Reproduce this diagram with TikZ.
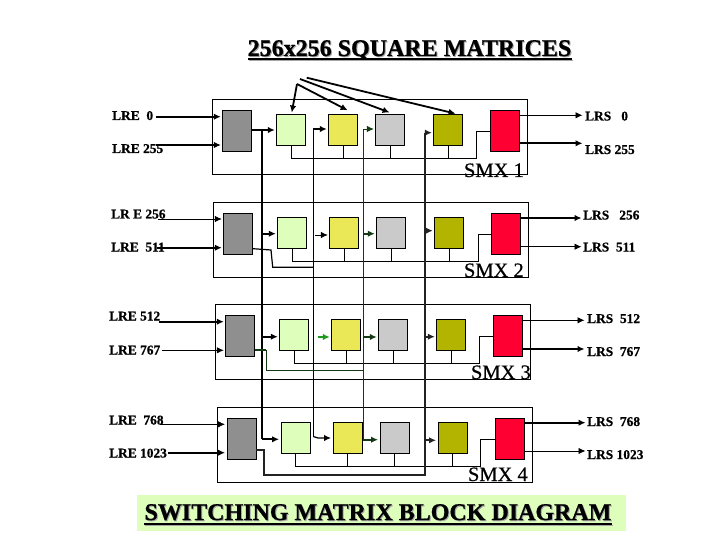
\documentclass[tikz,border=0pt]{standalone}
\usepackage{fontspec}
\setmainfont{Liberation Serif}
\newfontfamily\heavyfont[UprightFeatures={FakeBold=0.5},BoldFeatures={FakeBold=0.7}]{Liberation Serif}
\usetikzlibrary{arrows.meta}
\definecolor{grayblock}{HTML}{8F8F8F}
\definecolor{lightgreenblock}{HTML}{DDFFBB}
\definecolor{yellowblock}{HTML}{EBE858}
\definecolor{silverblock}{HTML}{CACACA}
\definecolor{oliveblock}{HTML}{B2B400}
\definecolor{redblock}{HTML}{FF0033}
\definecolor{darkgreenline}{HTML}{143A14}
\definecolor{brightgreenline}{HTML}{1E9A1E}
\definecolor{charcoalline}{HTML}{222222}
\definecolor{bannerback}{HTML}{DDFFBB}
\tikzset{
  x=1pt,y=-1pt,
  tip/.style={-{Latex[length=7pt,width=6.5pt]},shorten >=1.5pt},
  thinline/.style={line width=0.8pt},
  midline/.style={line width=1.2pt},
  thickline/.style={line width=1.8pt},
  frame/.style={draw=black,line width=0.8pt,fill=white,minimum width=315pt,minimum height=75pt,inner sep=0pt,anchor=north west},
  blk/.style={draw=black,line width=0.8pt,minimum width=29pt,minimum height=30.5pt,inner sep=0pt,anchor=north west},
  tallblk/.style={blk,minimum height=41pt},
  lab/.style={font=\fontsize{13.4}{13.4}\selectfont\heavyfont\bfseries,inner sep=0pt,anchor=base west},
  smxlab/.style={font=\fontsize{20.5}{20.5}\selectfont\heavyfont,inner sep=0pt,anchor=base east},
  headtext/.style={font=\fontsize{24}{24}\selectfont\heavyfont\bfseries,inner sep=0pt,anchor=base},
  headshadow/.style={headtext,text=black!35},
}
\newcommand{\smxblock}[4]{%
  % #1 id, #2 x, #3 y, #4 riser x
  \node[frame] (f#1) at (#2,#3) {};
  \node[tallblk,fill=grayblock]  (g#1) at (#2+10,#3+11) {};
  \node[blk,fill=lightgreenblock] (a#1) at (#2+64,#3+15) {};
  \node[blk,fill=yellowblock]     (b#1) at (#2+116,#3+15) {};
  \node[blk,fill=silverblock]     (c#1) at (#2+163,#3+15) {};
  \node[blk,fill=oliveblock]      (d#1) at (#2+221,#3+15) {};
  \node[tallblk,fill=redblock]    (r#1) at (#2+278,#3+11) {};
  \draw[thinline] (a#1.south) -- ++(0,12.5) coordinate (s#1) -- (s#1 -| #4,0) coordinate (t#1) |- (r#1.west);
  \draw[thinline] (b#1.south) -- (b#1.south |- s#1);
  \draw[thinline] (c#1.south) -- (c#1.south |- s#1);
  \draw[thinline] (d#1.south) -- (d#1.south |- s#1);
}
\begin{document}
\begin{tikzpicture}
\useasboundingbox (0,0) rectangle (720,540);
\fill[white] (0,0) rectangle (720,540);

\smxblock{1}{212.3}{99.3}{476.3}
\smxblock{2}{213.3}{202.3}{478.7}
\smxblock{3}{215.3}{304.3}{479.3}
\smxblock{4}{216.5}{407.3}{480.3}

% inputs
\coordinate (i1a) at (156,116.7); \coordinate (i1b) at (156,145);
\coordinate (i2a) at (158,219);   \coordinate (i2b) at (156.7,247.7);
\coordinate (i3a) at (159.3,321.7); \coordinate (i3b) at (161.7,350.3);
\coordinate (i4a) at (160,424.3); \coordinate (i4b) at (168,452.7);
\draw[tip,thickline] (i1a) -- (i1a -| g1.west);
\draw[tip,midline]   (i1b) -- (i1b -| g1.west);
\draw[tip,thinline]  (i2a) -- (i2a -| g2.west);
\draw[tip,thickline] (i2b) -- (i2b -| g2.west);
\draw[tip,thickline] (i3a) -- (i3a -| g3.west);
\draw[tip,thinline]  (i3b) -- (i3b -| g3.west);
\draw[tip,thinline]  (i4a) -- (i4a -| g4.west);
\draw[tip,thickline] (i4b) -- (i4b -| g4.west);

% outputs
\coordinate (o1a) at (584,115.3); \coordinate (o1b) at (584,143.3);
\coordinate (o2a) at (583,218);   \coordinate (o2b) at (583,246.7);
\coordinate (o3a) at (586,320.3); \coordinate (o3b) at (586,349);
\coordinate (o4a) at (587,422.7); \coordinate (o4b) at (587,451);
\draw[tip,thinline]  (o1a -| r1.east) -- (o1a);
\draw[tip,thickline] (o1b -| r1.east) -- (o1b);
\draw[tip,thickline] (o2a -| r2.east) -- (o2a);
\draw[tip,thinline]  (o2b -| r2.east) -- (o2b);
\draw[tip,thinline]  (o3a -| r3.east) -- (o3a);
\draw[tip,thickline] (o3b -| r3.east) -- (o3b);
\draw[tip,thickline] (o4a -| r4.east) -- (o4a);
\draw[tip,thinline]  (o4b -| r4.east) -- (o4b);

% first vertical, thick black
\coordinate (v1top) at (262,130); \coordinate (v1bot) at (262,439.3);
\draw[tip,thickline] (v1top -| g1.east) -- (v1top -| a1.west);
\draw[thickline] (v1top) -- (v1bot);
\draw[tip,thickline] (v1bot) -- (v1bot -| a4.west);
\draw[tip,thickline] (262,233.7) -- (262,233.7 -| a2.west);
\draw[tip,thickline] (262,336.7) -- (262,336.7 -| a3.west);

% second vertical, black
\draw[thinline] (313.3,129) -- (313.3,436.5);
\draw[tip,thickline] (313.3,129) -- (313.3,129 -| b1.west);
\draw[tip,midline] (313.3,436.5) -- (318,438) -- (318,438 -| b4.west);
\draw[tip,thinline] (315,235) -- (315,235 -| b2.west);
\draw[tip,thickline,brightgreenline] (318,337) -- (318,337 -| b3.west);
\draw[midline] (g2.east |- 0,248.7) -- (271,250) -- (272.7,267.3) -- (313.3,267.3);

% third vertical, dark green
\draw[thinline,darkgreenline] (363.3,129) -- (363.3,439.7);
\draw[tip,thinline,darkgreenline] (363.3,129) -- (363.3,129 -| c1.west);
\draw[tip,thickline,darkgreenline] (363.3,233.7) -- (363.3,233.7 -| c2.west);
\draw[tip,thickline,darkgreenline] (363.3,337) -- (363.3,337 -| c3.west);
\draw[tip,thickline,darkgreenline] (363.3,439.7) -- (363.3,439.7 -| c4.west);
\draw[thinline,darkgreenline] (266.3,350) -- (266.3,370.3) -- (363.3,370.3);
\draw[thickline,darkgreenline] (g3.east |- 0,350) -- (266.3,350);

% fourth vertical, charcoal
\draw[thickline,charcoalline] (g4.east |- 0,450.3) -- (263.7,450.3) -- (263.7,475) -- (424.7,475) -- (424.7,132.7);
\draw[tip,midline,charcoalline] (424.7,132.7) -- (424.7,132.7 -| d1.west);
\draw[tip,thickline,charcoalline] (424.7,230.7) -- (424.7,230.7 -| d2.west);
\draw[tip,thickline,charcoalline] (424.7,336.7) -- (424.7,336.7 -| d3.west);
\draw[tip,thickline,charcoalline] (424.7,440.3) -- (424.7,440.3 -| d4.west);

% fan of arrows at top
\coordinate (p1) at (297,84); \coordinate (p2) at (297,84);
\coordinate (p3) at (300,79); \coordinate (p4) at (306.7,77.7);
\draw[tip,thickline] (p1) -- (291.5,114);
\draw[tip,thickline] (p2) -- (349,111);
\draw[tip,thickline] (p3) -- (391,113);
\draw[tip,thickline] (p4) -- (457,114);

% labels
\node[lab] (l1) at (112,120) {LRE\ \ 0};
\node[lab] (l2) at (112,153) {LRE 255};
\node[lab] (l3) at (111,218.5) {LR E 256};
\node[lab] (l4) at (111,251.5) {LRE\ \ 511};
\node[lab] (l5) at (109,320.5) {LRE 512};
\node[lab] (l6) at (109,354.5) {LRE 767};
\node[lab] (l7) at (109,424.5) {LRE\ \ 768};
\node[lab] (l8) at (109,457.5) {LRE 1023};
\node[lab] (m1) at (585,120.5) {LRS\ \ \ 0};
\node[lab] (m2) at (585,154) {LRS 255};
\node[lab] (m3) at (583,219.5) {LRS\ \ \ 256};
\node[lab] (m4) at (583,251.5) {LRS\ \ 511};
\node[lab] (m5) at (587,323) {LRS\ \ 512};
\node[lab] (m6) at (587,356) {LRS\ \ 767};
\node[lab] (m7) at (587,426) {LRS\ \ 768};
\node[lab] (m8) at (587,459) {LRS 1023};

\node[smxlab] (x1) at (524,177) {SMX 1};
\node[smxlab] (x2) at (524,277) {SMX 2};
\node[smxlab] (x3) at (531,379) {SMX 3};
\node[smxlab] (x4) at (528,481) {SMX 4};

% title and banner
\node[headshadow] (titleb) at (410.5,57) {256x256 SQUARE MATRICES};
\node[headtext] (title) at (409.5,56) {256x256 SQUARE MATRICES};
\fill (247.5,58.3) rectangle (572,60.3);
\fill[black!35] (248.5,60.3) rectangle (573,61);
\node[fill=bannerback,minimum width=489pt,minimum height=35.5pt,inner sep=0pt] (banner) at (381.5,513) {};
\node[headshadow] (btitleb) at (379,521) {SWITCHING MATRIX BLOCK DIAGRAM};
\node[headtext] (btitle) at (378,520) {SWITCHING MATRIX BLOCK DIAGRAM};
\fill (144,522.5) rectangle (612,525);
\fill[black!35] (145,525) rectangle (613,526);
\end{tikzpicture}
\end{document}
